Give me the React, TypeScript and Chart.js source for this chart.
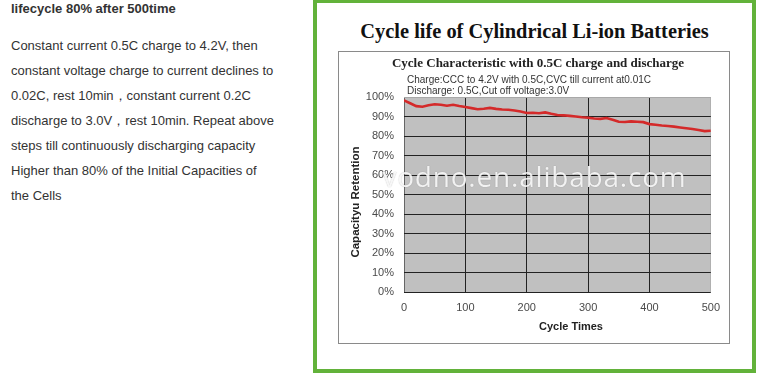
import React, { useEffect, useRef } from "react";
import { Chart, registerables } from "chart.js";

Chart.register(...registerables);

const cycles = [
  0, 10, 20, 30, 40, 50, 60, 70, 80, 90,
  100, 110, 120, 130, 140, 150, 160, 170, 180, 190,
  200, 210, 220, 230, 240, 250, 260, 270, 280, 290,
  300, 310, 320, 330, 340, 350, 360, 370, 380, 390,
  400, 410, 420, 430, 440, 450, 460, 470, 480, 490, 500,
];
const retention = [
  98.3, 96.8, 95.3, 95.0, 95.8, 96.3, 96.0, 95.5, 96.0, 95.4,
  94.9, 94.3, 93.7, 94.0, 94.4, 93.9, 93.6, 93.5, 93.1, 92.6,
  91.8, 91.9, 91.7, 92.1, 91.4, 90.8, 90.6, 90.3, 90.0, 89.6,
  89.4, 89.0, 88.8, 89.2, 88.3, 87.3, 87.2, 87.5, 87.3, 87.1,
  86.1, 85.8, 85.4, 85.1, 84.8, 84.4, 84.0, 83.6, 83.1, 82.5, 82.7,
];
const xTicks = [0, 100, 200, 300, 400, 500];
const yTicks = [0, 10, 20, 30, 40, 50, 60, 70, 80, 90, 100];

const headline = "lifecycle 80% after 500time";
const paragraphLines = [
  "Constant current 0.5C charge to 4.2V, then",
  "constant voltage charge to current declines to",
  "0.02C, rest 10min\uFF0Cconstant current 0.2C",
  "discharge to 3.0V\uFF0Crest 10min. Repeat above",
  "steps till continuously discharging capacity",
  "Higher than 80% of the Initial Capacities of",
  "the Cells",
];
const mainTitle = "Cycle life of Cylindrical Li-ion Batteries";
const subTitle = "Cycle Characteristic with 0.5C charge and discharge";
const noteLines = [
  "Charge:CCC to 4.2V with 0.5C,CVC till current at0.01C",
  "Discharge: 0.5C,Cut off voltage:3.0V",
];
const xTitle = "Cycle Times";
const yTitle = "Capacityu Retention";
const watermark = "vodno.en.alibaba.com";

const plotBg = {
  id: "plotBg",
  beforeDraw(chart: any) {
    const { ctx, chartArea } = chart;
    ctx.save();
    ctx.fillStyle = "#c0c0c0";
    ctx.fillRect(chartArea.left, chartArea.top, chartArea.right - chartArea.left, chartArea.bottom - chartArea.top);
    ctx.restore();
  },
};

export default function App() {
  const ref = useRef<HTMLCanvasElement>(null);

  useEffect(() => {
    if (!ref.current) return;
    const chart = new Chart(ref.current, {
      type: "line",
      data: {
        datasets: [
          {
            data: cycles.map((c, i) => ({ x: c, y: retention[i] })),
            borderColor: "#d42a2a",
            borderWidth: 2.6,
            pointRadius: 0,
            tension: 0,
            fill: false,
          },
        ],
      },
      options: {
        animation: false,
        responsive: false,
        maintainAspectRatio: false,
        layout: { padding: { top: 45, left: 0, right: 17, bottom: 0 } },
        plugins: { legend: { display: false }, tooltip: { enabled: false }, title: { display: false } },
        scales: {
          x: {
            type: "linear",
            min: 0,
            max: 500,
            afterFit: (s: any) => { s.height = 51; },
            afterBuildTicks: (s: any) => { s.ticks = xTicks.map((v) => ({ value: v })); },
            ticks: { padding: 9, color: "#4a4a4a", font: { family: "'Liberation Sans', Arial, sans-serif", size: 11 }, maxRotation: 0 },
            grid: {
              drawTicks: false,
              lineWidth: 1,
              color: (c: any) => (c.tick && c.tick.value === 500 ? "#b0b0b0" : c.tick && c.tick.value === 0 ? "#666666" : "#222222"),
            },
            border: { display: false },
          },
          y: {
            min: 0,
            max: 100,
            afterFit: (s: any) => { s.width = 65; },
            afterBuildTicks: (s: any) => { s.ticks = yTicks.map((v) => ({ value: v })); },
            ticks: {
              padding: 10,
              color: "#4a4a4a",
              font: { family: "'Liberation Sans', Arial, sans-serif", size: 11 },
              callback: (v: any) => v + "%",
            },
            grid: {
              drawTicks: false,
              lineWidth: 1,
              color: (c: any) => (c.tick && c.tick.value === 100 ? "#a8a8a8" : "#222222"),
            },
            border: { display: false },
          },
        },
      },
      plugins: [plotBg],
    });
    return () => chart.destroy();
  }, []);

  const sans = "'Liberation Sans', Arial, sans-serif";
  const serif = "'Liberation Serif', 'Times New Roman', serif";

  return (
    <div style={{ position: "fixed", left: 0, top: 0, width: 757, height: 374, background: "#fff", overflow: "hidden" }}>
      <div style={{ position: "absolute", left: 11, top: 1.7, fontFamily: sans, fontSize: 13, lineHeight: "13px", fontWeight: "bold", color: "#333", whiteSpace: "nowrap" }}>
        {headline}
      </div>
      <div style={{ position: "absolute", left: 11, top: 32.5, fontFamily: sans, fontSize: 13, lineHeight: "25px", color: "#333", whiteSpace: "nowrap" }}>
        {paragraphLines.map((l, i) => (
          <div key={i}>{l}</div>
        ))}
      </div>

      <div style={{ position: "absolute", left: 313, top: -1, width: 443 - 8, height: 374 - 8, border: "4px solid #62b23a", background: "#fff" }} />

      <div style={{ position: "absolute", left: 313, width: 443, top: 21.3, textAlign: "center", fontFamily: serif, fontWeight: "bold", fontSize: 20.4, lineHeight: "20px", color: "#111", whiteSpace: "nowrap" }}>
        {mainTitle}
      </div>

      <div style={{ position: "absolute", left: 338, top: 51, width: 390, height: 291, border: "1px solid #8a8a8a" }} />

      <canvas ref={ref} width={390} height={291} style={{ position: "absolute", left: 339, top: 52, width: 390, height: 291 }} />

      <div style={{ position: "absolute", left: 338, width: 400, top: 56.4, textAlign: "center", fontFamily: serif, fontWeight: "bold", fontSize: 13, lineHeight: "13px", color: "#222", whiteSpace: "nowrap" }}>
        {subTitle}
      </div>
      <div style={{ position: "absolute", left: 407, top: 73.6, fontFamily: sans, fontSize: 10, lineHeight: "11px", color: "#333", whiteSpace: "nowrap" }}>
        {noteLines.map((l, i) => (
          <div key={i}>{l}</div>
        ))}
      </div>

      <div style={{ position: "absolute", left: 471, width: 200, top: 319, textAlign: "center", fontFamily: sans, fontWeight: "bold", fontSize: 11, lineHeight: "14px", color: "#222", whiteSpace: "nowrap" }}>
        {xTitle}
      </div>
      <div style={{ position: "absolute", left: 355 - 75, top: 202 - 7, width: 150, height: 14, textAlign: "center", transform: "rotate(-90deg)", fontFamily: sans, fontWeight: "bold", fontSize: 11.5, lineHeight: "14px", color: "#222", whiteSpace: "nowrap" }}>
        {yTitle}
      </div>

      <div style={{ position: "absolute", left: 234.5, width: 600, top: 162.1, textAlign: "center", fontFamily: "'Open Sans', sans-serif", fontSize: 28, letterSpacing: 0.8, lineHeight: "28px", color: "rgba(255,255,255,0.88)", textShadow: "0 0 1px rgba(0,0,0,0.3)", whiteSpace: "nowrap" }}>
        {watermark}
      </div>
    </div>
  );
}
